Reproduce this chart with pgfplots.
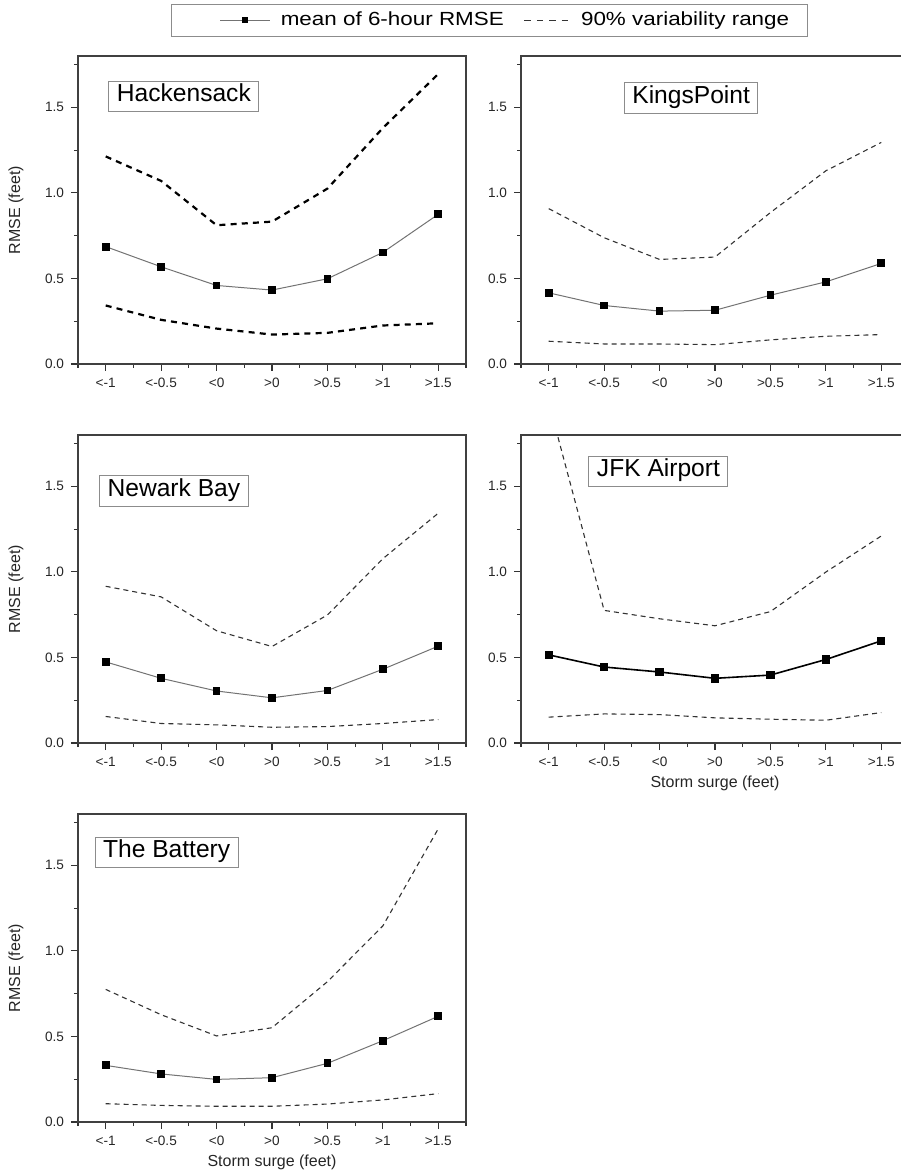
\documentclass[border=0pt]{standalone}
\usepackage{graphicx}
\usepackage{pgfplots}
\pgfplotsset{compat=1.18}
\usepackage{fontspec}
\setmainfont{Liberation Sans}

\pgfplotstableread{
x hm hu hl km ku kl
0 0.686 1.213 0.342 0.416 0.908 0.133
1 0.568 1.070 0.258 0.342 0.738 0.117
2 0.459 0.811 0.207 0.309 0.611 0.117
3 0.432 0.832 0.172 0.314 0.625 0.113
4 0.498 1.025 0.182 0.402 0.885 0.141
5 0.652 1.379 0.225 0.480 1.129 0.162
6 0.875 1.695 0.238 0.588 1.295 0.172
}\tabA
\pgfplotstableread{
x nm nu nl jm ju jl bm bu bl
0 0.474 0.916 0.155 0.515 1.990 0.151 0.331 0.775 0.107
1 0.378 0.854 0.114 0.444 0.775 0.170 0.281 0.627 0.097
2 0.304 0.656 0.106 0.415 0.726 0.166 0.249 0.503 0.092
3 0.264 0.564 0.092 0.378 0.685 0.147 0.259 0.551 0.092
4 0.307 0.748 0.096 0.397 0.768 0.139 0.343 0.820 0.105
5 0.431 1.077 0.114 0.488 0.999 0.133 0.475 1.146 0.129
6 0.566 1.343 0.137 0.597 1.210 0.178 0.618 1.714 0.166
}\tabB

\tikzset{
 paneltitle/.style={draw=black!45, line width=0.5pt, fill=white, font=\fontsize{12.3}{14}\selectfont,
   inner xsep=4pt, inner ysep=3pt, text height=0.72em, text depth=0.2em},
}
\pgfplotsset{
 panel/.style={
  scale only axis, width=194pt, height=154pt,
  xmin=-0.5, xmax=6.5, ymin=0, ymax=1.8,
  xtick={0,...,6},
  xticklabels={{<-1},{<-0.5},{<0},{>0},{>0.5},{>1},{>1.5}},
  minor xtick={-0.5,0.5,...,6.5},
  ytick={0,0.5,1,1.5}, yticklabels={0.0,0.5,1.0,1.5},
  minor ytick={0.25,0.75,1.25,1.75},
  tick pos=left, tick align=outside,
  major tick length=3.5pt, minor tick length=2pt,
  axis line style={black!75, line width=0.9pt},
  every tick/.append style={black!80, line width=0.6pt},
  tick label style={font=\fontsize{6.8}{7.5}\selectfont, text=black!85},
  label style={font=\fontsize{8}{9}\selectfont, text=black!85},
  ylabel style={at={(axis description cs:-0.16,0.5)}, anchor=center},
  xlabel style={at={(axis description cs:0.5,-0.13)}, anchor=center},
 },
 meanline/.style={black!55, line width=0.5pt, mark=square*, mark size=1.7pt, mark options={black, solid}},
 rangeline/.style={black!80, line width=0.55pt, dash pattern=on 2.5pt off 2pt},
 legmean/.style={legend image code/.code={\path (-17pt,0pt) (28pt,0pt); \draw[mark repeat=2, mark phase=2, ##1] plot coordinates {(0pt,0pt) (12.5pt,0pt) (25pt,0pt)};}},
 legrange/.style={legend image code/.code={\path (0pt,0pt) (26pt,0pt); \draw[##1] (0pt,0pt) -- (22.5pt,0pt);}},
}

\begin{document}
\begin{tikzpicture}
\useasboundingbox (0,0) rectangle (450pt,-586pt);

% Hackensack
\begin{axis}[panel, at={(39pt,-28pt)}, anchor=north west, ylabel={RMSE (feet)},
  legend columns=2,
  legend style={at={(axis description cs:1.0606,1.1156)}, anchor=center,
    draw=black!45, line width=0.5pt, inner xsep=7pt, inner ysep=2pt,
    font=\fontsize{9.5}{11}\selectfont,
    /tikz/every even column/.append style={column sep=8pt}},
  legend cell align=left]
\addlegendimage{legmean, black!55, line width=0.5pt, mark=square*, mark size=1.2pt, mark options={black,solid}}
\addlegendentry{\scalebox{1.18}[1]{mean of 6-hour RMSE}}
\addlegendimage{legrange, black!80, line width=0.6pt, dash pattern=on 3.2pt off 3pt}
\addlegendentry{\scalebox{1.18}[1]{90\% variability range}}
\addplot[black, line width=1.1pt, dash pattern=on 3pt off 2.6pt, forget plot] table[x=x, y=hu] {\tabA};
\addplot[black, line width=1.1pt, dash pattern=on 3pt off 2.6pt, forget plot] table[x=x, y=hl] {\tabA};
\addplot[meanline, forget plot] table[x=x, y=hm] {\tabA};
\node[paneltitle] at (axis cs:1.41,1.564) {Hackensack};
\end{axis}

% KingsPoint
\begin{axis}[panel, at={(260.5pt,-28pt)}, anchor=north west]
\addplot[rangeline] table[x=x, y=ku] {\tabA};
\addplot[rangeline] table[x=x, y=kl] {\tabA};
\addplot[meanline] table[x=x, y=km] {\tabA};
\node[paneltitle] at (axis cs:2.57,1.555) {KingsPoint};
\end{axis}

% Newark Bay
\begin{axis}[panel, at={(39pt,-217.5pt)}, anchor=north west, ylabel={RMSE (feet)}]
\addplot[rangeline] table[x=x, y=nu] {\tabB};
\addplot[rangeline] table[x=x, y=nl] {\tabB};
\addplot[meanline] table[x=x, y=nm] {\tabB};
\node[paneltitle] at (axis cs:1.23,1.473) {Newark Bay};
\end{axis}

% JFK Airport
\begin{axis}[panel, at={(260.5pt,-217.5pt)}, anchor=north west, xlabel={Storm surge (feet)}]
\addplot[rangeline] table[x=x, y=ju] {\tabB};
\addplot[rangeline] table[x=x, y=jl] {\tabB};
\addplot[meanline, black, line width=0.8pt] table[x=x, y=jm] {\tabB};
\node[paneltitle] at (axis cs:1.98,1.585) {JFK Airport};
\end{axis}

% The Battery
\begin{axis}[panel, at={(39pt,-407pt)}, anchor=north west, ylabel={RMSE (feet)}, xlabel={Storm surge (feet)}]
\addplot[rangeline] table[x=x, y=bu] {\tabB};
\addplot[rangeline] table[x=x, y=bl] {\tabB};
\addplot[meanline] table[x=x, y=bm] {\tabB};
\node[paneltitle] at (axis cs:1.10,1.576) {The Battery};
\end{axis}
\end{tikzpicture}
\end{document}
